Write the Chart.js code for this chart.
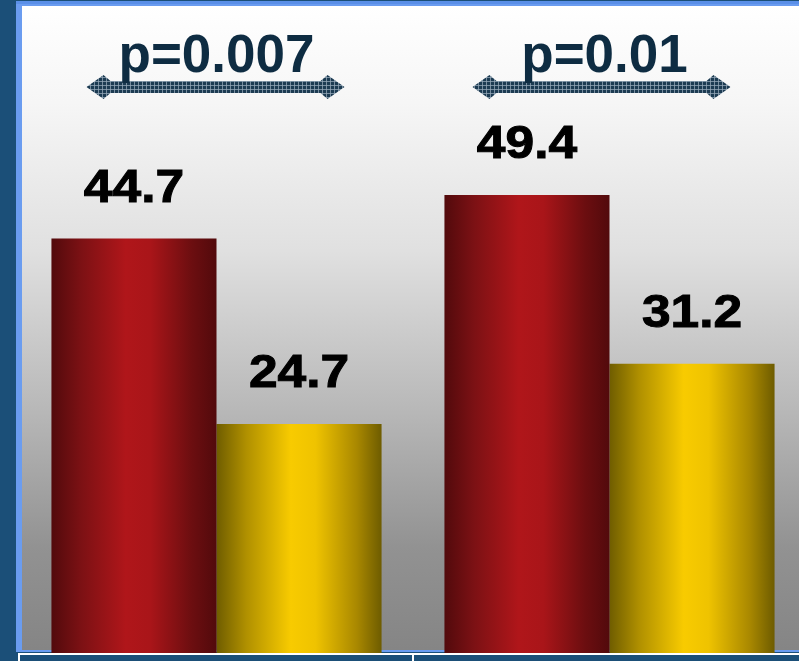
<!DOCTYPE html>
<html>
<head>
<meta charset="utf-8">
<title>p-value bars</title>
<script src="https://cdn.jsdelivr.net/npm/chart.js@4/dist/chart.umd.min.js"></script>
<style>
    html, body { margin: 0; padding: 0; overflow: hidden; background: #1b4f78; }
    #wrap { width: 806px; height: 661px; }
</style>
</head>
<body>
<div id="wrap"><canvas id="barchart" width="806" height="661"></canvas></div>
<script>
/*global Chart:false, document:false */
"use strict";

// data
var groups = ["A", "B"];
var redValues = [44.7, 49.4];
var yellowValues = [24.7, 31.2];
var pLabels = ["p=0.007", "p=0.01"];
var yMax = 70;

var FONT = '"Liberation Sans", Arial, sans-serif';
var CAT_PCT = 0.84;

var redStops = ["#520a0c", "#7c1114", "#b0161a", "#a91519", "#6c0e10", "#520a0c"];
var yellowStops = ["#6f5d00", "#b09000", "#f8cb00", "#efc300", "#a98800", "#6e5c00"];

// horizontal "cylinder" gradient for each bar
function barGradient(stops, side) {
    return function (ctx) {
        var chart = ctx.chart, xs = chart.scales.x;
        if (!chart.chartArea || !xs || ctx.type !== "data") {
            return stops[2];
        }
        var center = xs.getPixelForValue(ctx.dataIndex),
            bw = (xs.width / groups.length) * CAT_PCT / 2,
            left = side === 0 ? center - bw : center,
            g = chart.ctx.createLinearGradient(left, 0, left + bw, 0);
        g.addColorStop(0, stops[0]);
        g.addColorStop(0.18, stops[1]);
        g.addColorStop(0.45, stops[2]);
        g.addColorStop(0.6, stops[3]);
        g.addColorStop(0.85, stops[4]);
        g.addColorStop(1, stops[5]);
        return g;
    };
}

// checkered fill used by the double arrows
function arrowPattern(ctx) {
    var c = document.createElement("canvas"), p;
    c.width = 4;
    c.height = 4;
    p = c.getContext("2d");
    p.fillStyle = "#1c3b52";
    p.fillRect(0, 0, 4, 4);
    p.fillStyle = "rgba(150,170,185,0.75)";
    p.fillRect(0, 1, 4, 1);
    p.fillRect(2, 0, 1, 4);
    return ctx.createPattern(c, "repeat");
}

function drawArrow(ctx, cx, cy, half) {
    var tip = 17, join = 24, sh = 6, dh = 12;
    ctx.beginPath();
    ctx.moveTo(cx - half, cy);
    ctx.lineTo(cx - half + tip, cy - dh);
    ctx.lineTo(cx - half + join, cy - sh);
    ctx.lineTo(cx + half - join, cy - sh);
    ctx.lineTo(cx + half - tip, cy - dh);
    ctx.lineTo(cx + half, cy);
    ctx.lineTo(cx + half - tip, cy + dh);
    ctx.lineTo(cx + half - join, cy + sh);
    ctx.lineTo(cx - half + join, cy + sh);
    ctx.lineTo(cx - half + tip, cy + dh);
    ctx.closePath();
    ctx.fillStyle = arrowPattern(ctx);
    ctx.fill();
}

// slide frame and grey backdrop
var framePlugin = {
    id: "frame",
    beforeDraw: function (chart) {
        var ctx = chart.ctx, w = chart.width, h = chart.height,
            xs = chart.scales.x, g, sep;
        ctx.save();
        ctx.fillStyle = "#1b4f78";
        ctx.fillRect(0, 0, w, h);
        ctx.fillStyle = "#6a9cf0";
        ctx.fillRect(16, 1, w - 16, 651);
        ctx.fillStyle = "#5a8fe8";
        ctx.fillRect(16, 1, w - 16, 3);

        g = ctx.createLinearGradient(0, 6, 0, 650);
        g.addColorStop(0, "#ffffff");
        g.addColorStop(0.15, "#f6f6f6");
        g.addColorStop(0.38, "#e0e0e0");
        g.addColorStop(0.62, "#b9b9b9");
        g.addColorStop(0.84, "#929292");
        g.addColorStop(1, "#858585");
        ctx.fillStyle = g;
        ctx.fillRect(22, 6, w - 22, 644);

        // table lines under the bars
        ctx.fillStyle = "#ffffff";
        ctx.fillRect(18, 653, w - 18, 2);
        ctx.fillRect(18, 653, 2, h - 653);
        sep = (xs.getPixelForValue(0) + xs.getPixelForValue(1)) / 2;
        ctx.fillRect(Math.round(sep) - 1, 653, 2, h - 653);
        ctx.restore();
    }
};

// value labels above bars + p-value arrows
var labelPlugin = {
    id: "labels",
    afterDatasetsDraw: function (chart) {
        var ctx = chart.ctx, xs = chart.scales.x, i, cx;
        ctx.save();
        ctx.textAlign = "center";
        ctx.textBaseline = "alphabetic";
        chart.data.datasets.forEach(function (ds, di) {
            chart.getDatasetMeta(di).data.forEach(function (bar, k) {
                var txt = ds.data[k].toFixed(1);
                ctx.save();
                ctx.translate(bar.x, bar.y - 37);
                ctx.scale(1.12, 1);
                ctx.fillStyle = "#000000";
                ctx.strokeStyle = "#000000";
                ctx.lineWidth = 1;
                ctx.font = "bold 46px " + FONT;
                ctx.fillText(txt, 0, 0);
                ctx.strokeText(txt, 0, 0);
                ctx.restore();
            });
        });

        for (i = 0; i < pLabels.length; i += 1) {
            cx = xs.getPixelForValue(i);
            drawArrow(ctx, cx - (i === 0 ? 1 : 8), 87, 129);
            ctx.fillStyle = "#0e2c42";
            ctx.font = "bold 53px " + FONT;
            ctx.fillText(pLabels[i], cx - (i === 0 ? 0 : 5), 72);
        }
        ctx.restore();
    }
};

var barctx = document.getElementById("barchart").getContext("2d");

window.barChart = new Chart(barctx, {
    type: "bar",
    data: {
        labels: groups,
        datasets: [
            {
                label: "red",
                data: redValues,
                backgroundColor: barGradient(redStops, 0),
                borderWidth: 0
            },
            {
                label: "yellow",
                data: yellowValues,
                backgroundColor: barGradient(yellowStops, 1),
                borderWidth: 0
            }
        ]
    },
    options: {
        responsive: false,
        animation: false,
        devicePixelRatio: 1,
        layout: { padding: { left: 20, right: 0, top: 4, bottom: 8 } },
        datasets: { bar: { barPercentage: 1, categoryPercentage: CAT_PCT } },
        plugins: {
            legend: { display: false },
            tooltip: { enabled: false }
        },
        scales: {
            x: { display: false },
            y: { display: false, min: 0, max: yMax }
        }
    },
    plugins: [framePlugin, labelPlugin]
});
</script>
</body>
</html>
